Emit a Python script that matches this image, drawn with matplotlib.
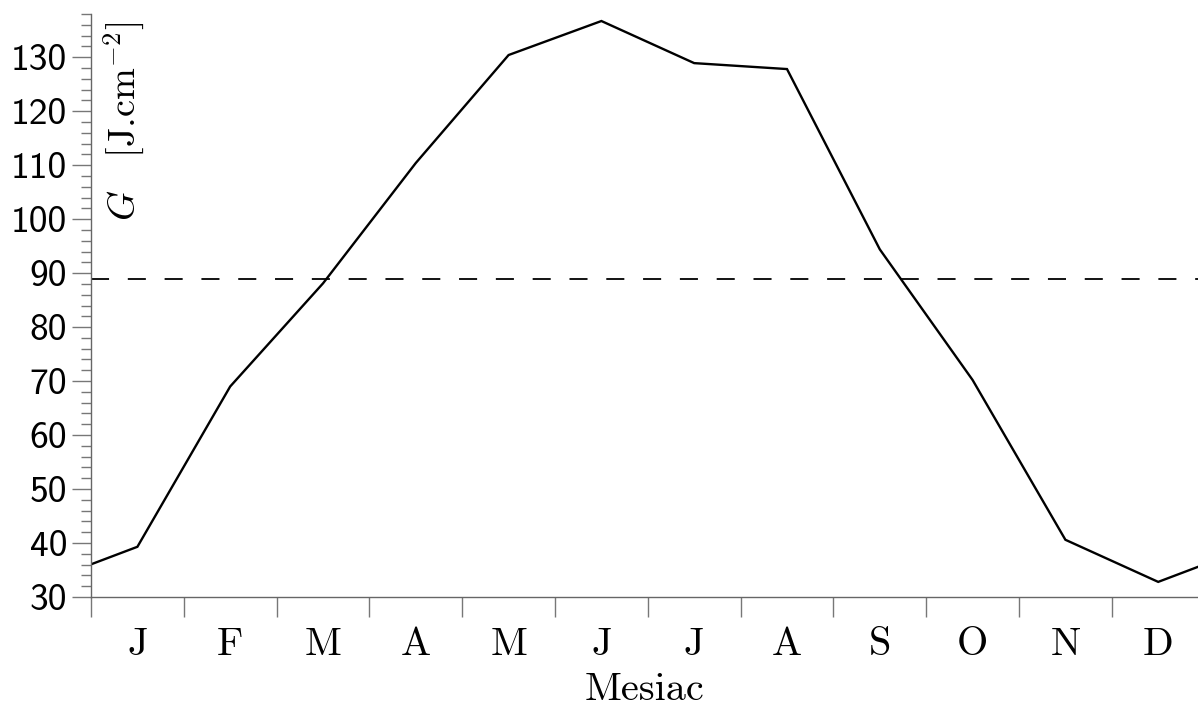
import matplotlib
matplotlib.use("Agg")
import matplotlib.pyplot as plt
from matplotlib.ticker import MultipleLocator, FixedLocator, FuncFormatter

plt.rcParams['mathtext.fontset'] = 'cm'
plt.rcParams['lines.scale_dashes'] = False

# data
months = ['J', 'F', 'M', 'A', 'M', 'J', 'J', 'A', 'S', 'O', 'N', 'D']
G_values = [39.3, 69.0, 88.1, 110.4, 130.4, 136.7, 128.9, 127.8, 94.4, 70.2, 40.6, 32.8]
G_mean = 88.9
y_ticks = [30, 40, 50, 60, 70, 80, 90, 100, 110, 120, 130]

W, H = 1198, 725
fig = plt.figure(figsize=(W / 100, H / 100), dpi=100)
left_px, right_px, top_px, bottom_px = 91, 1198, 14, 597
ax = fig.add_axes([left_px / W, 1 - bottom_px / H,
                   (right_px - left_px) / W, (bottom_px - top_px) / H])

month_w = 92.8
ax.set_xlim(0, (right_px - left_px) / month_w)
ax.set_ylim(30, 138)

# periodic line: month centres, wrapped at both ends
xs = [-0.5] + [i + 0.5 for i in range(len(G_values))] + [len(G_values) + 0.5]
ys = [G_values[-1]] + G_values + [G_values[0]]
ax.plot(xs, ys, color='black', lw=1.7, solid_joinstyle='miter')

ax.axhline(G_mean, color='black', lw=1.3, dashes=(13, 13.5))

for s in ['top', 'right']:
    ax.spines[s].set_visible(False)
for s in ['left', 'bottom']:
    ax.spines[s].set_color('#666666')
    ax.spines[s].set_linewidth(1.0)

# y ticks
ax.yaxis.set_major_locator(FixedLocator(y_ticks))
ax.yaxis.set_minor_locator(MultipleLocator(2))
ax.yaxis.set_major_formatter(FuncFormatter(lambda v, p: '%d' % v))
ax.tick_params(axis='y', which='major', length=13.7, width=1.0, color='#777777',
               labelsize=27, pad=3.5, direction='out')
ax.tick_params(axis='y', which='minor', length=7.2, width=1.0, color='#777777',
               direction='out')
for lab in ax.get_yticklabels():
    lab.set_fontfamily('cmss10')

# x ticks: labels at month centres, marks at month boundaries
ax.set_xticks([i + 0.5 for i in range(len(months))])
ax.set_xticklabels(months, fontfamily='cmr10')
ax.xaxis.set_minor_locator(FixedLocator(list(range(len(months)))))
ax.tick_params(axis='x', which='major', length=0, labelsize=29, pad=22)
ax.tick_params(axis='x', which='minor', length=14.4, width=1.0, color='#777777',
               direction='out')

ax.set_xlabel('Mesiac', fontsize=29, labelpad=6, fontfamily='cmr10')

# y label inside axes
fig.text(124 / W, 1 - 22 / H, r'$G\quad$' + '[J.cm' + r'$^{-2}$' + ']', rotation=90,
         ha='center', va='top', fontsize=27.5, fontfamily='cmr10')

fig.savefig('out.png', dpi=100)
